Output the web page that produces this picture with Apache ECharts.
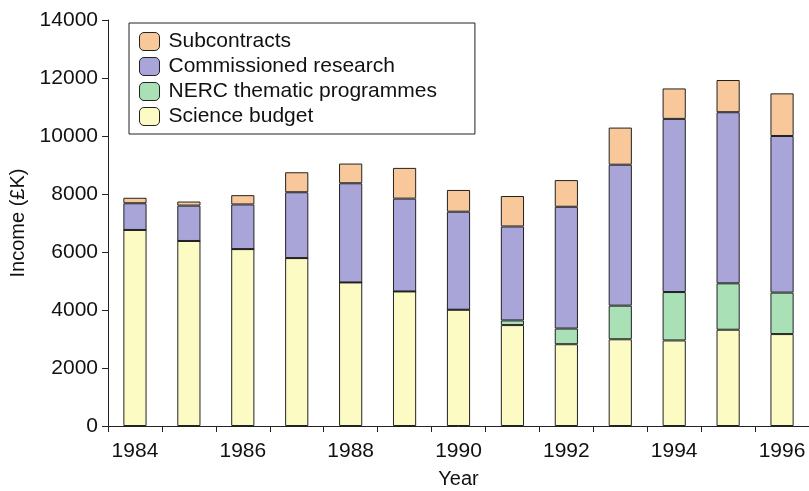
<!DOCTYPE html>
<html><head><meta charset="utf-8">
<script src="https://cdn.jsdelivr.net/npm/echarts@6/dist/echarts.min.js"></script>
<style>html,body{margin:0;padding:0;background:#fff}#c{width:809px;height:491px}</style>
</head><body><div id="c"></div>
<script>
const years = ['1984','1985','1986','1987','1988','1989','1990','1991','1992','1993','1994','1995','1996'];
const scienceBudget = [6760,6380,6100,5790,4950,4640,4010,3480,2820,2990,2950,3320,3170];
const nercThematic = [0,0,0,0,0,0,0,160,540,1160,1670,1600,1430];
const commissioned = [920,1220,1540,2270,3420,3200,3380,3240,4200,4860,5970,5900,5400];
const subcontracts = [190,140,320,690,680,1060,750,1050,920,1280,1050,1110,1470];
const yTicks = [0,2000,4000,6000,8000,10000,12000,14000];

const font = 'Liberation Sans, Arial, Helvetica, sans-serif';
const chart = echarts.init(document.getElementById('c'));
function ser(name, data, color){
  return {name, type:'bar', stack:'t', data, barWidth:'43%',
    itemStyle:{color, borderColor:'#222', borderWidth:1}};
}
chart.setOption({
  animation:false,
  grid:{left:108, right:0, top:20, bottom:65, containLabel:false, outerBoundsMode:'none'},
  legend:{
    orient:'vertical', left:129, top:23,
    data:['Subcontracts','Commissioned research','NERC thematic programmes','Science budget'],
    borderColor:'#222', borderWidth:1, padding:[8,38,7,10],
    itemWidth:20, itemHeight:18, itemGap:4,
    textStyle:{fontFamily:font, fontSize:21, color:'#111', padding:[0,0,0,4]},
    itemStyle:{borderColor:'#222', borderWidth:1}
  },
  xAxis:{
    type:'category', data:years,
    name:'Year', nameLocation:'middle', nameGap:43,
    nameTextStyle:{fontFamily:font, fontSize:20, color:'#111'},
    axisLine:{lineStyle:{color:'#222', width:1}},
    axisTick:{show:true, interval:0, alignWithLabel:false, length:6, lineStyle:{color:'#222'}},
    axisLabel:{interval:1, fontFamily:font, fontSize:21, color:'#111', margin:15}
  },
  yAxis:{
    type:'value', min:yTicks[0], max:yTicks[yTicks.length-1], interval:2000,
    name:'Income (£K)', nameLocation:'middle', nameGap:78,
    nameTextStyle:{fontFamily:font, fontSize:20, color:'#111'},
    axisLine:{show:true, lineStyle:{color:'#222', width:1}},
    axisTick:{show:true, length:6, lineStyle:{color:'#222'}},
    splitLine:{show:false},
    axisLabel:{fontFamily:font, fontSize:21, color:'#111', margin:10, formatter:v=>String(v)}
  },
  series:[
    ser('Science budget', scienceBudget, '#fdfbc4'),
    ser('NERC thematic programmes', nercThematic, '#a9e0b5'),
    ser('Commissioned research', commissioned, '#aaa5d8'),
    ser('Subcontracts', subcontracts, '#f8c89a')
  ]
});
</script></body></html>
